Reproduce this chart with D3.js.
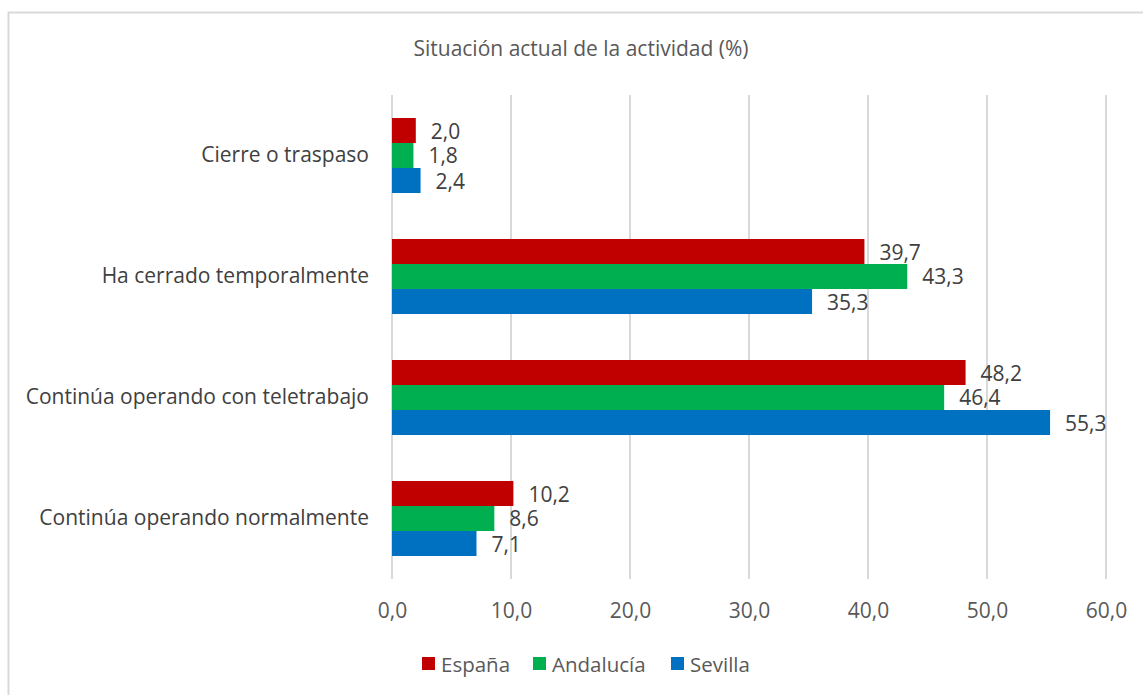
<!DOCTYPE html>
<html lang="es">
<head>
<meta charset="utf-8">
<script src="https://cdn.jsdelivr.net/npm/d3@7"></script>
<style>
  html, body { margin: 0; padding: 0; background: #fff; }
  svg { display: block; font-family: "Open Sans", "Noto Sans", sans-serif; }
</style>
</head>
<body>
<svg id="chart" width="1143" height="695"></svg>
<script>
// Categories listed top to bottom
const categories = [
  "Cierre o traspaso",
  "Ha cerrado temporalmente",
  "Continúa operando con teletrabajo",
  "Continúa operando normalmente"
];
const seriesNames = ["España", "Andalucía", "Sevilla"];
const espana    = [2.0, 39.7, 48.2, 10.2];
const andalucia = [1.8, 43.3, 46.4, 8.6];
const sevilla   = [2.4, 35.3, 55.3, 7.1];
const xTicks = [0, 10, 20, 30, 40, 50, 60];
const title = "Situación actual de la actividad (%)";

const colors = ["#C00000", "#00B050", "#0070C0"];
const seriesValues = [espana, andalucia, sevilla];

const svg = d3.select("#chart");

// chart frame
svg.append("rect")
  .attr("x", 8.5).attr("y", 12.5)
  .attr("width", 1300).attr("height", 900)
  .attr("fill", "#fff")
  .attr("stroke", "#D9D9D9").attr("stroke-width", 2);

const plot = { left: 392, right: 1106, top: 95, bottom: 579 };

const x = d3.scaleLinear().domain([0, 60]).range([plot.left, plot.right]);
const y = d3.scaleBand().domain(categories)
  .range([plot.top, plot.bottom])
  .paddingInner(0.38).paddingOuter(0.19);
const ySub = d3.scaleBand().domain(seriesNames).range([0, y.bandwidth()]);

const fmt = v => d3.format(".1f")(v).replace(".", ",");

// title
svg.append("text")
  .attr("x", 581).attr("y", 48)
  .attr("text-anchor", "middle").attr("dominant-baseline", "central")
  .attr("fill", "#595959").attr("font-size", 21)
  .text(title);

// vertical gridlines
svg.append("g")
  .selectAll("line")
  .data(xTicks)
  .join("line")
  .attr("x1", d => x(d)).attr("x2", d => x(d))
  .attr("y1", plot.top).attr("y2", plot.bottom)
  .attr("stroke", "#D9D9D9").attr("stroke-width", 2);

// x axis labels
const xAxis = d3.axisBottom(x).tickValues(xTicks).tickFormat(fmt).tickSize(0).tickPadding(0);
const gx = svg.append("g")
  .attr("transform", `translate(0,${plot.bottom})`)
  .call(xAxis);
gx.select(".domain").remove();
gx.selectAll("text")
  .attr("y", 32).attr("dy", "0.35em")
  .attr("fill", "#595959")
  .attr("font-size", 21)
  .attr("font-family", "\"Open Sans\", sans-serif");

// category labels
const yAxis = d3.axisLeft(y).tickSize(0).tickPadding(0);
const gy = svg.append("g")
  .attr("transform", `translate(${plot.left - 23},0)`)
  .call(yAxis);
gy.select(".domain").remove();
gy.selectAll("text")
  .attr("fill", "#404040")
  .attr("font-size", 21)
  .attr("font-family", "\"Open Sans\", sans-serif");

// bars
const groups = svg.append("g")
  .selectAll("g")
  .data(categories)
  .join("g")
  .attr("transform", d => `translate(0,${y(d)})`);

groups.each(function(cat, ci) {
  const g = d3.select(this);
  seriesNames.forEach((s, si) => {
    const v = seriesValues[si][ci];
    g.append("rect")
      .attr("x", x(0))
      .attr("y", ySub(s))
      .attr("width", x(v) - x(0))
      .attr("height", ySub.bandwidth())
      .attr("fill", colors[si]);
    g.append("text")
      .attr("x", x(v) + 15)
      .attr("y", ySub(s) + ySub.bandwidth() / 2)
      .attr("dominant-baseline", "central")
      .attr("fill", "#404040")
      .attr("font-size", 21)
      .text(fmt(v));
  });
});

// legend
const legendX = [422, 533, 671];
const legend = svg.append("g")
  .selectAll("g")
  .data(seriesNames)
  .join("g")
  .attr("transform", (d, i) => `translate(${legendX[i]},657)`);
legend.append("rect")
  .attr("width", 13).attr("height", 13)
  .attr("fill", (d, i) => colors[i]);
legend.append("text")
  .attr("x", 19).attr("y", 6.5)
  .attr("dominant-baseline", "central")
  .attr("fill", "#595959")
  .attr("font-size", 20.5)
  .text(d => d);
</script>
</body>
</html>
